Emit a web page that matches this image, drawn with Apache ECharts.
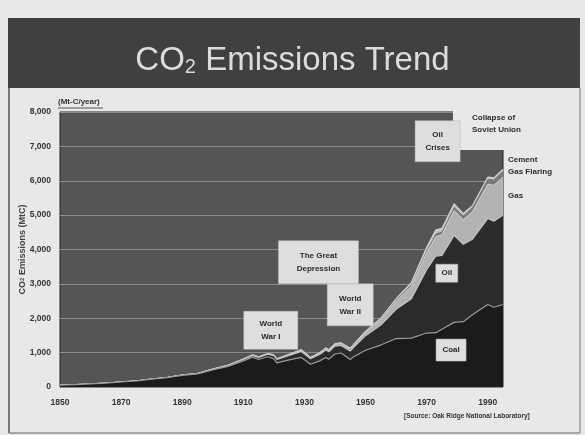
<!DOCTYPE html>
<html><head><meta charset="utf-8">
<script src="https://cdn.jsdelivr.net/npm/echarts@6/dist/echarts.min.js"></script>
<style>html,body{margin:0;padding:0;background:#e8e8e8}#c{width:585px;height:435px}</style>
</head><body><div id="c"></div>
<script>
// ---- data (Mt-C / year) ----
const years   = [1850,1855,1860,1865,1870,1875,1880,1885,1890,1895,1900,1905,1910,1913,1915,1918,1920,1921,1925,1929,1932,1935,1937,1938,1940,1942,1945,1946,1950,1955,1960,1965,1970,1973,1975,1979,1982,1985,1990,1992,1995];
const coal    = [54,70,91,115,146,175,230,270,340,380,500,600,760,870,800,880,820,700,790,860,660,760,860,810,960,990,800,870,1070,1220,1410,1420,1570,1580,1680,1880,1900,2100,2400,2320,2400];
const oil     = [0,0,0,1,1,2,3,5,9,12,16,25,40,50,60,75,95,100,130,175,160,185,215,215,230,220,245,270,423,580,850,1150,1840,2230,2150,2530,2250,2200,2500,2500,2600];
const gas     = [0,0,0,0,0,0,0,2,3,4,7,9,12,14,15,17,19,19,28,47,38,45,55,55,58,65,75,80,97,150,235,361,493,560,600,720,720,800,1000,1050,1100];
const cement  = [0,0,0,0,0,0,0,0,0,0,2,3,4,5,4,4,5,5,7,10,8,10,12,12,12,11,8,10,18,28,43,60,78,92,95,115,120,130,157,170,190];
const flaring = [0,0,0,0,0,0,0,0,0,0,0,0,0,0,0,0,0,0,0,0,0,2,3,3,4,4,6,8,23,30,39,55,87,110,92,90,65,50,53,50,55];
const xTickLabels = ['1850','1870','1890','1910','1930','1950','1970','1990'];
const yTickLabels = ['0','1,000','2,000','3,000','4,000','5,000','6,000','7,000','8,000'];

const annotations = [
  {text:'World\nWar I',         year:1919,   value:1650},
  {text:'World\nWar II',        year:1945,   value:2390},
  {text:'The Great\nDepression',year:1934.6, value:3630},
  {text:'Oil\nCrises',          year:1973.6, value:7150},
  {text:'Oil',                  year:1976.6, value:3310},
  {text:'Coal',                 year:1978,   value:1075}
];
const boxSizes = [[54,38],[46,42],[80,43],[45,41],[22,18],[30,22]];

// stacking: running totals of the layers (bottom to top)
const layers = [coal, oil, gas, cement, flaring];
const tops = [];
layers.forEach((arr,k)=>{ tops.push(arr.map((v,i)=> v + (k? tops[k-1][i] : 0))); });

const chart = echarts.init(document.getElementById('c'), null, {renderer:'canvas'});
const pair = arr => years.map((y,i)=>[y,arr[i]]);
function areaSeries(name, arr, fill, line, lw, z){
  return {name, type:'line', data:pair(arr), showSymbol:false, smooth:false,
    lineStyle:{color:line, width:lw}, areaStyle:{color:fill, opacity:1, origin:'start'}, itemStyle:{color:fill},
    emphasis:{disabled:true}, z:z};
}
const FONT = 'Liberation Sans';
chart.setOption({
  backgroundColor:'#e8e8e8',
  animation:false,
  grid:{left:60, right:82, top:112, bottom:48, show:true, backgroundColor:'#555555', borderColor:'#1e1e1e', borderWidth:1},
  xAxis:{type:'value', min:1850, max:1995, interval:10,
    axisLine:{show:false}, axisTick:{show:false}, splitLine:{show:false},
    axisLabel:{margin:11, fontFamily:FONT, fontSize:8.5, fontWeight:'bold', color:'#333',
      showMaxLabel:false,
      formatter:v=>{const s=String(v); return xTickLabels.indexOf(s)>=0?s:'';}}},
  yAxis:{type:'value', min:0, max:8000, interval:1000,
    axisLine:{show:false}, axisTick:{show:false},
    splitLine:{show:true, lineStyle:{color:'#8a8a8a', width:1}},
    axisLabel:{margin:9, fontFamily:FONT, fontSize:8.5, fontWeight:'bold', color:'#333',
      formatter:v=>yTickLabels[Math.round(v/1000)]},
    name:'{a|CO}{s|2}{a| Emissions (MtC)}', nameLocation:'middle', nameGap:33, nameRotate:90, nameMoveOverlap:false,
    nameTextStyle:{rich:{a:{fontFamily:FONT,fontSize:9,fontWeight:'bold',color:'#444'},
                         s:{fontFamily:FONT,fontSize:6,fontWeight:'bold',color:'#444'}}}},
  series:[
    areaSeries('Gas Flaring', tops[4], '#c4c4c4', '#d6d6d6', 1, 2),
    areaSeries('Cement', tops[3], '#7a7a7a', '#7a7a7a', 0, 3),
    areaSeries('Gas', tops[2], '#b3b3b3', '#d2d2d2', 1, 4),
    areaSeries('Oil', tops[1], '#2b2b2b', '#c4c4c4', 1.2, 5),
    areaSeries('Coal', tops[0], '#1b1b1b', '#9a9a9a', 1.2, 6)
  ]
});

const g = [];
// slide frame and title band
g.push({type:'rect', shape:{x:8,y:18,width:572,height:70}, style:{fill:'#404040'}, z:0});
g.push({type:'line', shape:{x1:9,y1:88,x2:9,y2:433}, style:{stroke:'#555',lineWidth:1.5}, z:0});
g.push({type:'line', shape:{x1:580,y1:88,x2:580,y2:433}, style:{stroke:'#777',lineWidth:1}, z:0});
g.push({type:'line', shape:{x1:9,y1:433,x2:580,y2:433}, style:{stroke:'#666',lineWidth:1}, z:0});
g.push({type:'text', left:'center', top:44, z:5,
  style:{text:'{a|CO}{s|2}{a| Emissions Trend}', fill:'#dcdcdc',
    rich:{a:{fontFamily:FONT,fontSize:33,fill:'#dcdcdc',lineHeight:36,verticalAlign:'bottom'},
          s:{fontFamily:FONT,fontSize:20,fill:'#dcdcdc',lineHeight:21,verticalAlign:'bottom'}}}});
// unit label
g.push({type:'text', x:58, y:98, z:10, style:{text:'(Mt-C/year)', fontFamily:FONT, fontSize:8, fontWeight:'bold', fill:'#333'}});
g.push({type:'line', shape:{x1:58,y1:108,x2:103,y2:108}, style:{stroke:'#555',lineWidth:1}, z:10});
// top-right label area
g.push({type:'rect', shape:{x:453,y:108,width:53,height:42}, style:{fill:'#e8e8e8'}, z:10});
g.push({type:'text', x:472, y:112, z:11, style:{text:'Collapse of\nSoviet Union', fontFamily:FONT, fontSize:8, fontWeight:'bold', fill:'#2a2a2a', lineHeight:12}});
g.push({type:'text', x:508, y:154, z:11, style:{text:'Cement\nGas Flaring', fontFamily:FONT, fontSize:8, fontWeight:'bold', fill:'#2a2a2a', lineHeight:12}});
g.push({type:'text', x:508, y:192, z:11, style:{text:'Gas', fontFamily:FONT, fontSize:8, fontWeight:'bold', fill:'#2a2a2a'}});
// source
g.push({type:'text', x:404, y:413, z:11, style:{text:'[Source: Oak Ridge National Laboratory]', fontFamily:FONT, fontSize:6.5, fontWeight:'bold', fill:'#333'}});
// annotation boxes
annotations.forEach((a,i)=>{
  const p = chart.convertToPixel({gridIndex:0}, [a.year, a.value]);
  const [w,h] = boxSizes[i];
  g.push({type:'rect', shape:{x:p[0]-w/2, y:p[1]-h/2, width:w, height:h}, style:{fill:'#dedede', stroke:'#bbb', lineWidth:0.5}, z:20});
  g.push({type:'text', x:p[0], y:p[1], z:21, style:{text:a.text, align:'center', verticalAlign:'middle', fontFamily:FONT, fontSize:8, fontWeight:'bold', fill:'#2a2a2a', lineHeight:13}});
});
chart.setOption({graphic:{elements:g}});
</script>
</body></html>
